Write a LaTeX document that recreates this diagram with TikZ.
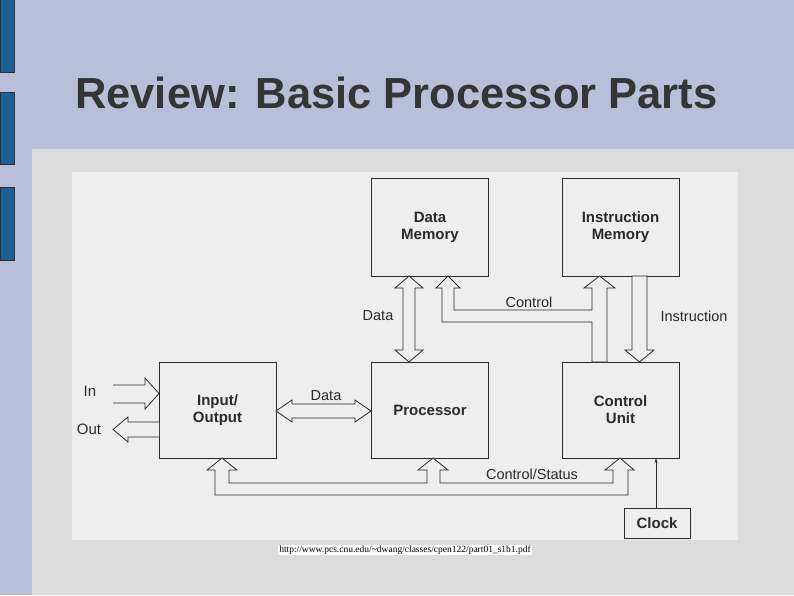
\documentclass[tikz,border=0pt]{standalone}
\usepackage{fontspec}
\setmainfont{Liberation Sans}
\newfontfamily\urlfont{Liberation Serif}
\usetikzlibrary{arrows.meta}
\definecolor{bg}{HTML}{B9BFD8}
\definecolor{panel}{HTML}{DCDCDC}
\definecolor{photo}{HTML}{EEEEEE}
\definecolor{bar}{HTML}{1A5E94}
\definecolor{ink}{HTML}{2A2A2A}
\tikzset{
  unitbox/.style={draw=ink,line width=0.9pt,font=\bfseries\fontsize{15}{17}\selectfont,text=ink,align=center,inner sep=0pt},
  hollow/.style={draw=ink,line width=0.8pt,fill=photo,line join=miter},
  lbl/.style={font=\fontsize{14.5}{16}\selectfont,text=ink,inner sep=0pt},
  sidebar/.style={fill=bar,draw=black!80,line width=0.6pt}
}
\begin{document}
\begin{tikzpicture}[x=1pt,y=-1pt]
\useasboundingbox (0,0) rectangle (794,595);
\fill[bg] (0,0) rectangle (794,595);
\draw[sidebar] (0,-2) rectangle (14,72);
\draw[sidebar] (0,92) rectangle (14,164);
\draw[sidebar] (0,187) rectangle (14,260);
\fill[panel] (32,149) rectangle (794,595);
\fill[photo] (72,172) rectangle (738,540);
\node[anchor=base west,font=\bfseries\fontsize{43.5}{46}\selectfont,text=ink!95,inner sep=0pt] (title) at (75,108) {Review: Basic Processor Parts};
% boxes
\node[unitbox,minimum width=117,minimum height=98] (dm) at (430,227) {Data\\Memory};
\node[unitbox,minimum width=117,minimum height=98] (im) at (620.5,227) {Instruction\\Memory};
\node[unitbox,minimum width=117,minimum height=96] (io) at (217.5,410) {Input/\\Output};
\node[unitbox,minimum width=117,minimum height=96] (pr) at (430,410) {Processor};
\node[unitbox,minimum width=117,minimum height=96] (cu) at (620.5,410) {Control\\Unit};
\node[unitbox,minimum width=66,minimum height=30] (ck) at (657,523) {Clock};
% data memory <-> processor
\draw[hollow] (395,288)--(409,276)--(423,288)--(415,288)--(415,350)--(423,350)--(409,362)--(395,350)--(403,350)--(403,288)--cycle;
\node[lbl] (ldata1) at (378,316) {Data};
% control
\draw[hollow] (448,276)--(460,288)--(454,288)--(454,310)--(592,310)--(592,288)--(584,288)--(599.5,276)--(615,288)--(607,288)--(607,362)--(592,362)--(592,322)--(442,322)--(442,288)--(436,288)--cycle;
\node[lbl] (lctrl) at (529,302) {Control};
% instruction
\draw[hollow] (632,276)--(632,350)--(625,350)--(639.5,362)--(654,350)--(647,350)--(647,276)--cycle;
\node[lbl] (linstr) at (694,316) {Instruction};
% io <-> processor
\draw[hollow] (276,411)--(292,400)--(292,404)--(355,404)--(355,400)--(371,411)--(355,422)--(355,418)--(292,418)--(292,422)--cycle;
\node[lbl] (ldata2) at (326,396) {Data};
% in / out
\filldraw[hollow] (113,385)--(145,385)--(145,378)--(159,393.5)--(145,409)--(145,403)--(113,403);
\node[lbl,font=\fontsize{15}{17}\selectfont] (lin) at (90,391) {In};
\filldraw[hollow] (159,422)--(128,422)--(128,417)--(113,429.5)--(128,442)--(128,437)--(159,437);
\node[lbl,font=\fontsize{15}{17}\selectfont] (lout) at (89,429) {Out};
% control/status bus
\draw[hollow] (207,470)--(222,458)--(237,470)--(229,470)--(229,483)--(427,483)--(427,470)--(418,470)--(433,458)--(448,470)--(440,470)--(440,483)--(613,483)--(613,470)--(605,470)--(620,458)--(634,470)--(628,470)--(628,495)--(215,495)--(215,470)--cycle;
\node[lbl] (lcs) at (532,474) {Control/Status};
% clock
\draw[ink,line width=0.8pt,-{Stealth[length=5pt,width=3pt]}] (ck.north -| 656,0) -- (656,458);
\node[font=\urlfont\fontsize{9.5}{11}\selectfont,fill=white,inner sep=1pt] (url) at (405,550) {http://www.pcs.cnu.edu/\textasciitilde dwang/classes/cpen122/part01\_s1b1.pdf};
\end{tikzpicture}
\end{document}
